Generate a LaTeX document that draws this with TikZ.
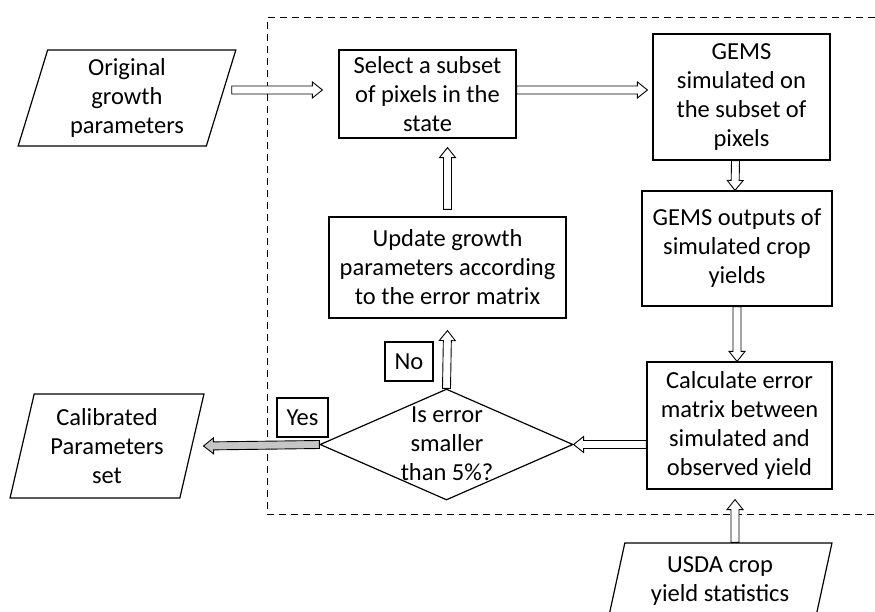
\documentclass[tikz,border=0pt]{standalone}
\usepackage{fontspec}
\setmainfont{Carlito}
\usetikzlibrary{shapes.geometric,calc}
\begin{document}
\begin{tikzpicture}[x=1pt,y=-1pt,
  every node/.style={font=\fontsize{24.5}{29}\selectfont, align=center, inner sep=0pt},
  box/.style={draw, line width=1.2pt, rectangle},
  para/.style={draw, line width=1.2pt, trapezium, trapezium stretches=true,
    trapezium left angle=#1, trapezium right angle=180-#1},
  dec/.style={draw, line width=1.2pt, diamond},
  lbl/.style={draw, line width=1.2pt, rectangle},
  dar/.style={draw, line width=0.9pt, fill=white, line join=miter,
    to path={
      ($(\tikztostart)!4pt!90:(\tikztotarget)$) --
      ($($(\tikztotarget)!10pt!(\tikztostart)$)!4pt!90:(\tikztotarget)$) --
      ($($(\tikztotarget)!10pt!(\tikztostart)$)!8pt!90:(\tikztotarget)$) --
      (\tikztotarget) --
      ($($(\tikztotarget)!10pt!(\tikztostart)$)!8pt!-90:(\tikztotarget)$) --
      ($($(\tikztotarget)!10pt!(\tikztostart)$)!4pt!-90:(\tikztotarget)$) --
      ($(\tikztostart)!4pt!-90:(\tikztotarget)$) -- cycle}},
  region/.style={dash pattern=on 7pt off 5pt, line width=1pt}
]
\useasboundingbox (0,0) rectangle (875,612);
\draw[region] (875,18) -- (267,18) -- (267,514) -- (875,514);

\node[para=75, minimum width=218, minimum height=96] (orig) at (127,98) {Original\\growth\\parameters};
\node[box, minimum width=177, minimum height=88] (select) at (427.5,94) {Select a subset\\of pixels in the\\state};
\node[box, minimum width=177, minimum height=126] (gems) at (741.5,97) {GEMS\\simulated on\\the subset of\\pixels};
\node[box, minimum width=190, minimum height=115] (outputs) at (737,248.5) {GEMS outputs of\\simulated crop\\yields};
\node[box, minimum width=185, minimum height=127] (calc) at (739.5,425.5) {Calculate error\\matrix between\\simulated and\\observed yield};
\node[box, minimum width=237, minimum height=101] (update) at (447.5,267.5) {Update growth\\parameters according\\to the error matrix};
\node[dec, minimum width=253, minimum height=111] (dia) at (446.5,444.5) {};
\node (diatext) at (447,444) {Is error\\smaller\\than 5\%?};
\node[para=76, minimum width=194, minimum height=104] (calib) at (107,446) {Calibrated\\Parameters\\set};
\node[para=76, minimum width=224, minimum height=77] (usda) at (720,581.5) {USDA crop\\yield statistics};
\node[lbl, minimum width=51, minimum height=39] (yes) at (302.5,417.5) {Yes};
\node[lbl, minimum width=48, minimum height=39] (no) at (409,361.5) {No};

\path[dar] ([xshift=10pt,yshift=8pt]orig.east) to ([xshift=-16pt,yshift=4pt]select.west);
\path[dar] ([yshift=4pt]select.east) to ([xshift=-5pt,yshift=7pt]gems.west);
\path[dar] ([xshift=-6pt]gems.south) to ([xshift=-2pt]outputs.north);
\path[dar] (outputs.south) to (outputs.south |- calc.north);
\path[dar] (calc.west |- dia.east) to (dia.east);
\path[dar] (dia.north) to ([yshift=-12pt]update.south);
\path[dar] ([yshift=7pt]update.north) to ([yshift=-9pt]update.north |- select.south);
\path[dar, fill=gray!45] (dia.west) to ([xshift=11pt]calib.east);
\path[dar] ([xshift=15pt]usda.north) to ([xshift=15pt,yshift=-10pt]usda.north |- calc.south);
\end{tikzpicture}
\end{document}
